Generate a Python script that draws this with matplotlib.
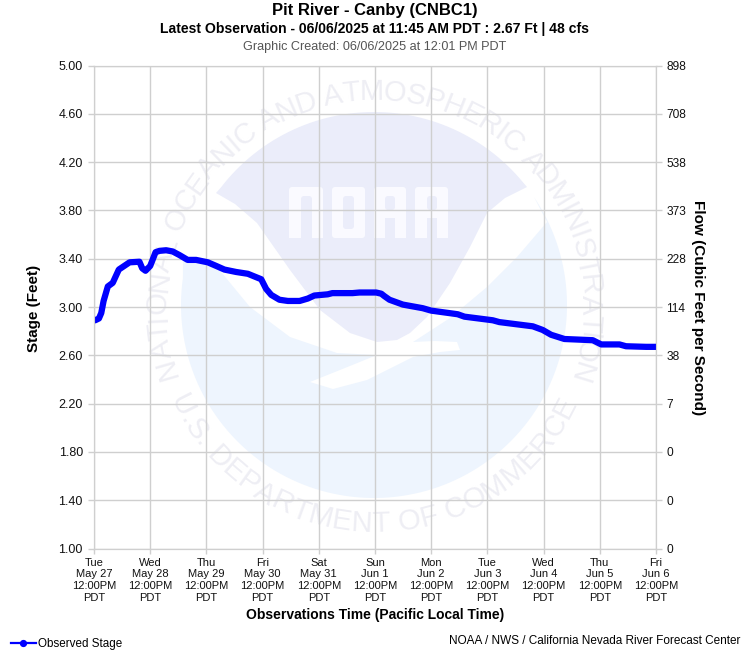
import numpy as np
import matplotlib
matplotlib.use("Agg")
import matplotlib.pyplot as plt
from matplotlib.font_manager import FontProperties
from matplotlib.lines import Line2D
from matplotlib.patches import FancyBboxPatch, Polygon, Rectangle
from matplotlib.textpath import TextToPath

plt.rcParams['font.family'] = ['Liberation Sans', 'DejaVu Sans']

# hours after the first tick (Tue May 27 12:00PM PDT)
obs_hours = [0, 0.5, 2.1, 3.1, 4.1, 5.9, 8.0, 10.6, 15.2, 19.4, 20.6, 22, 24, 26.3, 28, 30.8, 33.6, 36.5,
             40, 43.6, 48.6, 52.2, 55.7, 60.7, 65.7, 71.4, 73.5, 75.7, 79.2, 82.8, 87.8, 91.3,
             94.1, 99.8, 101.8, 110.4, 113.4, 120.5, 122.7, 124, 126.2, 131.9, 140.4, 144, 155.3,
             158.2, 170.3, 173.1, 187.4, 191.6, 195.2, 200.9, 213, 216.6, 224.4, 227.2, 235.8, 240]
obs_stage = [2.89, 2.89, 2.905, 2.95, 3.05, 3.17, 3.20, 3.31, 3.37, 3.375, 3.32, 3.30, 3.34, 3.454, 3.465, 3.47, 3.46, 3.43,
             3.39, 3.39, 3.37, 3.34, 3.31, 3.29, 3.275, 3.23, 3.15, 3.10, 3.06, 3.05, 3.05, 3.07,
             3.095, 3.105, 3.115, 3.115, 3.12, 3.12, 3.11, 3.09, 3.06, 3.02, 2.99, 2.97, 2.94,
             2.92, 2.89, 2.875, 2.84, 2.81, 2.77, 2.735, 2.725, 2.69, 2.69, 2.675, 2.67, 2.67]

stage_ticks = [1.00, 1.40, 1.80, 2.20, 2.60, 3.00, 3.40, 3.80, 4.20, 4.60, 5.00]
flow_labels = ["0", "0", "0", "7", "38", "114", "228", "373", "538", "708", "898"]
day_names = ["Tue", "Wed", "Thu", "Fri", "Sat", "Sun", "Mon", "Tue", "Wed", "Thu", "Fri"]
day_dates = ["May 27", "May 28", "May 29", "May 30", "May 31", "Jun 1", "Jun 2", "Jun 3", "Jun 4", "Jun 5", "Jun 6"]

FIG_W = 750
FIG_H = 650
GRID = "#cfcfcf"
PURPLE = "#ebedfa"
LETTER = "#fafaff"


def curved_text(bg, text, start, end, radius, cx, cy, bottom=False):
    # spread the letters over an arc, angles in degrees from straight up/down
    fp = FontProperties(family="Liberation Sans", size=21)
    t2p = TextToPath()
    widths = [t2p.get_text_width_height_descent(c, fp, False)[0] for c in text]
    total = sum(widths)
    pos = 0.0
    for c, w in zip(text, widths):
        a = start + (end - start) * (pos + w / 2) / total
        pos += w
        rad = np.radians(a)
        if bottom:
            x = cx + radius * np.sin(rad)
            y = cy + radius * np.cos(rad)
            rot = a
        else:
            x = cx + radius * np.sin(rad)
            y = cy - radius * np.cos(rad)
            rot = -a
        bg.text(x, y, c, fontproperties=fp, color="#eeeef4", rotation=rot,
                rotation_mode="anchor", ha="center", va="center")


def block(bg, x0, x1, y0, y1, color):
    bg.add_patch(Rectangle((x0, y0), x1 - x0, y1 - y0, fc=color, ec="none"))


def rounded(bg, x0, x1, y0, y1, color):
    bg.add_patch(FancyBboxPatch((x0, y0), x1 - x0, y1 - y0, boxstyle="round,pad=0,rounding_size=3",
                                fc=color, ec="none"))


def noaa_letters(bg):
    # N
    rounded(bg, 289, 323, 187, 238, LETTER)
    block(bg, 289, 323, 200, 238, LETTER)
    rounded(bg, 301, 312, 196, 242, PURPLE)
    block(bg, 301, 312, 200, 238, PURPLE)
    # O
    rounded(bg, 332, 365, 187, 238, LETTER)
    rounded(bg, 343, 354, 196, 229, PURPLE)
    # two A
    for x0, x1, s0, s1 in [(374, 406, 385, 395), (415, 448, 427, 437)]:
        rounded(bg, x0, x1, 187, 238, LETTER)
        block(bg, x0, x1, 200, 238, LETTER)
        rounded(bg, s0, s1, 196, 210, PURPLE)
        block(bg, s0, s1, 218, 238, PURPLE)


def draw_logo(bg):
    cx, cy, r = 374, 305, 193

    # upper (purple) part of the seal
    a = np.radians(np.linspace(-52.5, 50.5, 60))
    arc = np.column_stack([cx + r * np.sin(a), cy - r * np.cos(a)])
    edge = [(527, 187), (505, 198), (487, 213), (470, 247), (450, 283), (427, 317), (410, 333),
            (397, 340), (377, 342), (350, 333), (320, 310), (290, 270), (257, 223), (235, 204), (216, 193)]
    bg.add_patch(Polygon(np.vstack([arc, edge]), closed=True, fc=PURPLE, ec="none"))

    # lower (blue) part with the white bird cut out of its top edge
    a = np.radians(np.linspace(56, 278, 120))
    arc = np.column_stack([cx + r * np.sin(a), cy - r * np.cos(a)])
    edge = [(183, 260), (200, 258), (217, 267), (250, 307), (290, 337), (337, 353), (377, 355),
            (345, 368), (310, 382), (333, 389), (367, 380), (413, 357), (440, 352), (460, 350),
            (457, 342), (435, 341), (413, 342), (450, 318), (487, 287), (517, 257), (547, 222)]
    bg.add_patch(Polygon(np.vstack([arc, edge]), closed=True, fc="#eef5fe", ec="none"))

    noaa_letters(bg)

    curved_text(bg, "NATIONAL OCEANIC AND ATMOSPHERIC ADMINISTRATION", -109, 110, 216, cx, 308)
    curved_text(bg, "U.S. DEPARTMENT OF COMMERCE", -66, 65, 216, cx, 308, bottom=True)


fig = plt.figure(figsize=(FIG_W / 100, FIG_H / 100), dpi=100)

bg = fig.add_axes([0, 0, 1, 1], zorder=0)
bg.set_xlim(0, FIG_W)
bg.set_ylim(FIG_H, 0)
bg.axis("off")
draw_logo(bg)

ax = fig.add_axes([94 / FIG_W, (FIG_H - 548.5) / FIG_H, 562 / FIG_W, 483 / FIG_H], zorder=1)
ax.patch.set_visible(False)
ax.set_xlim(0, 240)
ax.set_ylim(1, 5)
ax.grid(True, color=GRID, linewidth=1)
ax.set_axisbelow(True)
for s in ax.spines.values():
    s.set_color(GRID)

ax.plot(obs_hours, obs_stage, color="#0000ff", linewidth=4.5,
        solid_capstyle="round", solid_joinstyle="round", zorder=3)

ax.set_yticks(stage_ticks)
ax.set_yticklabels(["%.2f" % v for v in stage_ticks], fontsize=9)
ax.set_xticks(np.arange(0, 241, 24))
ax.set_xticklabels(["%s\n%s\n12:00PM\nPDT" % (n, d) for n, d in zip(day_names, day_dates)],
                   fontsize=8.0, linespacing=1.2)
ax.tick_params(axis="y", color=GRID, length=4, width=1, pad=4, labelcolor="#111111")
ax.tick_params(axis="x", color=GRID, length=3.5, width=1, pad=3.2, labelcolor="#111111")

ax2 = ax.twinx()
ax2.set_ylim(1, 5)
ax2.set_yticks(stage_ticks)
ax2.set_yticklabels(flow_labels, fontsize=8.6)
ax2.tick_params(axis="y", color=GRID, length=4, width=1, pad=3.5, labelcolor="#111111")
for s in ax2.spines.values():
    s.set_color(GRID)

fig.text(375 / FIG_W, 1 - 10 / FIG_H, "Pit River - Canby (CNBC1)", fontsize=12.0, fontweight="bold", ha="center", va="center")
fig.text(375 / FIG_W, 1 - 29 / FIG_H, "Latest Observation - 06/06/2025 at 11:45 AM PDT : 2.67 Ft | 48 cfs",
         fontsize=10.05, fontweight="bold", ha="center", va="center")
fig.text(375 / FIG_W, 1 - 47 / FIG_H, "Graphic Created: 06/06/2025 at 12:01 PM PDT", fontsize=9.1, color="#555555", ha="center", va="center")

fig.text(34 / FIG_W, 1 - 308 / FIG_H, "Stage (Feet)", fontsize=11, fontweight="bold", rotation=90, ha="center", va="center")
fig.text(698 / FIG_W, 1 - 308 / FIG_H, "Flow (Cubic Feet per Second)", fontsize=11, fontweight="bold", rotation=270, ha="center", va="center")
fig.text(375 / FIG_W, 1 - 615 / FIG_H, "Observations Time (Pacific Local Time)", fontsize=10, fontweight="bold", ha="center", va="center")
fig.text(740 / FIG_W, 1 - 641 / FIG_H, "NOAA / NWS / California Nevada River Forecast Center", fontsize=8.48, ha="right", va="center")

handle = Line2D([], [], color="#0000ff", linewidth=1.6, marker="o", markersize=4.2, label="Observed Stage")
fig.legend(handles=[handle], loc="center left", bbox_to_anchor=(11 / FIG_W, 1 - 644 / FIG_H), frameon=False,
           fontsize=8.4, borderpad=0, borderaxespad=0, handlelength=2.1, handletextpad=0.2)

fig.savefig("out.png", dpi=100)
